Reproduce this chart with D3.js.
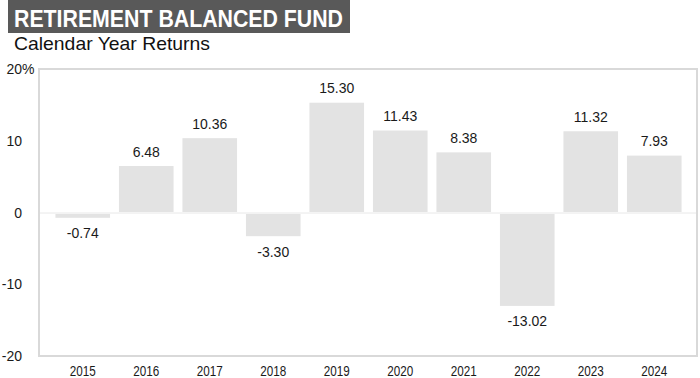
<!DOCTYPE html>
<html>
<head>
<meta charset="utf-8">
<script src="https://cdn.jsdelivr.net/npm/d3@7"></script>
<style>
  html, body { margin: 0; padding: 0; background: #fff; }
  svg { display: block; font-family: "Liberation Sans", Arial, sans-serif; }
</style>
</head>
<body>
<svg id="chart" width="700" height="378"></svg>
<script>
const years = ["2015","2016","2017","2018","2019","2020","2021","2022","2023","2024"];
const returns = [-0.74, 6.48, 10.36, -3.30, 15.30, 11.43, 8.38, -13.02, 11.32, 7.93];
const yTicks = [20, 10, 0, -10, -20];
const title = "RETIREMENT BALANCED FUND";
const subtitle = "Calendar Year Returns";

const svg = d3.select("#chart");

// Title block
svg.append("rect").attr("x", 8).attr("y", 0).attr("width", 342).attr("height", 33).attr("fill", "#595959");
svg.append("text").attr("x", 14).attr("y", 26.5)
  .attr("fill", "#fff").attr("font-weight", "bold").attr("font-size", 24)
  .attr("textLength", 329).attr("lengthAdjust", "spacingAndGlyphs")
  .text(title);
svg.append("text").attr("x", 14).attr("y", 50)
  .attr("fill", "#111").attr("font-size", 18.5)
  .attr("textLength", 196).attr("lengthAdjust", "spacingAndGlyphs")
  .text(subtitle);

// Scales
const y = d3.scaleLinear().domain([-20, 20]).range([356, 69]);
const x = d3.scaleBand().domain(years).range([51, 686]).paddingInner(0.14).paddingOuter(0.07);

// Frame
svg.append("rect").attr("x", 39).attr("y", 69).attr("width", 658).attr("height", 287)
  .attr("fill", "none").attr("stroke", "#d9d9d9").attr("stroke-width", 2);

// Bars
const y0 = y(0);
svg.append("g").selectAll("rect").data(returns).join("rect")
  .attr("x", (d, i) => x(years[i]))
  .attr("width", x.bandwidth())
  .attr("y", d => d >= 0 ? y(d) : y0 + 1.5)
  .attr("height", d => d >= 0 ? y0 - y(d) - 0.5 : y(d) - y0 - 1.5)
  .attr("fill", "#e3e3e3");

// Zero line
svg.append("line").attr("x1", 40).attr("x2", 696).attr("y1", y0 + 0.5).attr("y2", y0 + 0.5)
  .attr("stroke", "#e8e8e8").attr("stroke-width", 1);

// Value labels
svg.append("g").selectAll("text").data(returns).join("text")
  .attr("x", (d, i) => x(years[i]) + x.bandwidth() / 2)
  .attr("y", d => d >= 0 ? y(d) - 9.5 : y(d) + 20.5)
  .attr("text-anchor", "middle").attr("font-size", 14).attr("fill", "#1a1a1a")
  .text(d => d.toFixed(2));

// Y axis tick labels
const yAxis = svg.append("g");
yAxis.selectAll("text").data(yTicks).join("text")
  .attr("x", 22).attr("y", d => y(d) + 5)
  .attr("text-anchor", "end").attr("font-size", 14).attr("fill", "#1a1a1a")
  .text(d => d);
yAxis.append("text").attr("x", 22).attr("y", y(20) + 5)
  .attr("font-size", 14).attr("fill", "#1a1a1a").text("%");

// X axis labels
svg.append("g").selectAll("text").data(years).join("text")
  .attr("x", d => x(d) + x.bandwidth() / 2)
  .attr("y", 375.5)
  .attr("text-anchor", "middle").attr("font-size", 14).attr("fill", "#1a1a1a")
  .attr("textLength", 26).attr("lengthAdjust", "spacingAndGlyphs")
  .text(d => d);
</script>
</body>
</html>
